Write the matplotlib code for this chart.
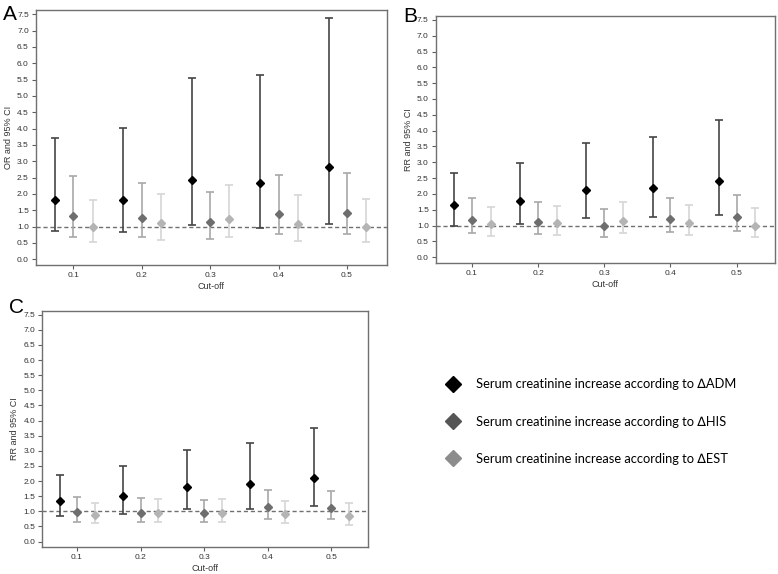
import numpy as np
import matplotlib
matplotlib.use('Agg')
import matplotlib.pyplot as plt
from matplotlib.lines import Line2D

plt.rcParams['font.family'] = ['Liberation Sans', 'DejaVu Sans']

cutoffs = [0.1, 0.2, 0.3, 0.4, 0.5]
series = ['ADM', 'HIS', 'EST']

# panel A : OR and 95% CI
a_est = {'ADM': [1.81, 1.83, 2.42, 2.35, 2.84],
         'HIS': [1.32, 1.26, 1.15, 1.39, 1.43],
         'EST': [0.98, 1.11, 1.24, 1.07, 1.00]}
a_lo = {'ADM': [0.88, 0.83, 1.06, 0.95, 1.08],
        'HIS': [0.67, 0.67, 0.63, 0.76, 0.77],
        'EST': [0.53, 0.59, 0.67, 0.57, 0.53]}
a_hi = {'ADM': [3.72, 4.02, 5.55, 5.64, 7.40],
        'HIS': [2.55, 2.33, 2.07, 2.57, 2.64],
        'EST': [1.80, 2.01, 2.27, 1.97, 1.84]}

# panel B : RR and 95% CI
b_est = {'ADM': [1.64, 1.77, 2.11, 2.19, 2.40],
         'HIS': [1.19, 1.12, 0.99, 1.22, 1.28],
         'EST': [1.04, 1.07, 1.15, 1.08, 0.99]}
b_lo = {'ADM': [0.99, 1.04, 1.23, 1.26, 1.33],
        'HIS': [0.75, 0.73, 0.65, 0.80, 0.84],
        'EST': [0.67, 0.69, 0.75, 0.71, 0.65]}
b_hi = {'ADM': [2.67, 2.98, 3.61, 3.81, 4.35],
        'HIS': [1.86, 1.73, 1.52, 1.86, 1.98],
        'EST': [1.60, 1.62, 1.75, 1.66, 1.54]}

# panel C : RR and 95% CI
c_est = {'ADM': [1.35, 1.50, 1.80, 1.89, 2.10],
         'HIS': [0.97, 0.96, 0.95, 1.14, 1.12],
         'EST': [0.89, 0.95, 0.96, 0.91, 0.84]}
c_lo = {'ADM': [0.83, 0.91, 1.07, 1.09, 1.16],
        'HIS': [0.64, 0.66, 0.64, 0.76, 0.73],
        'EST': [0.60, 0.64, 0.66, 0.60, 0.54]}
c_hi = {'ADM': [2.19, 2.50, 3.03, 3.26, 3.75],
        'HIS': [1.47, 1.45, 1.39, 1.69, 1.66],
        'EST': [1.29, 1.41, 1.42, 1.34, 1.26]}

offsets = {'ADM': -0.027, 'HIS': 0.0, 'EST': 0.028}
mcolors = {'ADM': '#000000', 'HIS': '#6e6e6e', 'EST': '#b4b4b4'}
bcolors = {'ADM': '#454545', 'HIS': '#a8a8a8', 'EST': '#d6d6d6'}
legend_colors = {'ADM': '#000000', 'HIS': '#555555', 'EST': '#8c8c8c'}
legend_labels = ['Serum creatinine increase according to \u2206ADM',
                 'Serum creatinine increase according to \u2206HIS',
                 'Serum creatinine increase according to \u2206EST']

fig = plt.figure(figsize=(7.78, 5.74), dpi=100)


def panel(rect, est, lo, hi, ylabel, letter, letter_dy):
    ax = fig.add_axes(rect)
    x = np.array(cutoffs)
    for s in series:
        e = np.array(est[s]); l = np.array(lo[s]); h = np.array(hi[s])
        ax.errorbar(x + offsets[s], e, yerr=[e - l, h - e], fmt='none',
                    ecolor=bcolors[s], elinewidth=1.2, capsize=3, capthick=1.2, zorder=2)
        ax.plot(x + offsets[s], e, 'D', color=mcolors[s], markersize=4, zorder=3)
    ax.axhline(1.0, color='#707070', linestyle=(0, (3, 2)), linewidth=1, zorder=1)
    ax.set_xlim(0.045, 0.558)
    ax.set_ylim(-0.18, 7.62)
    ax.set_xticks(cutoffs)
    ax.set_xticklabels(['0.1', '0.2', '0.3', '0.4', '0.5'])
    ax.set_yticks(np.arange(0, 7.51, 0.5))
    ax.set_yticklabels(['%.1f' % v for v in np.arange(0, 7.51, 0.5)])
    ax.tick_params(labelsize=6, length=3, color='#606060', labelcolor='#333333', pad=2)
    for sp in ax.spines.values():
        sp.set_color('#707070')
        sp.set_linewidth(1.0)
    ax.set_xlabel('Cut-off', fontsize=6.5, color='#333333', labelpad=2)
    ax.set_ylabel(ylabel, fontsize=6.5, color='#333333', labelpad=3)
    pos = ax.get_position()
    fig.text(pos.x0 - 0.042, pos.y1 + letter_dy, letter, fontsize=15, va='top', ha='left')
    return ax


panel([0.046, 0.538, 0.451, 0.444], a_est, a_lo, a_hi, 'OR and 95% CI', 'A', 0.010)
panel([0.560, 0.542, 0.436, 0.430], b_est, b_lo, b_hi, 'RR and 95% CI', 'B', 0.016)
panel([0.054, 0.047, 0.419, 0.411], c_est, c_lo, c_hi, 'RR and 95% CI', 'C', 0.022)

handles = [Line2D([], [], marker='D', linestyle='none', markersize=8,
                  color=legend_colors[s]) for s in series]
fig.legend(handles, legend_labels, loc='upper left', bbox_to_anchor=(0.557, 0.361),
           frameon=False, labelspacing=1.95, handlelength=1.2,
           handletextpad=1.2, prop={'family': ['Lato', 'DejaVu Sans'], 'size': 9.3})

fig.savefig('out.png', dpi=100)
